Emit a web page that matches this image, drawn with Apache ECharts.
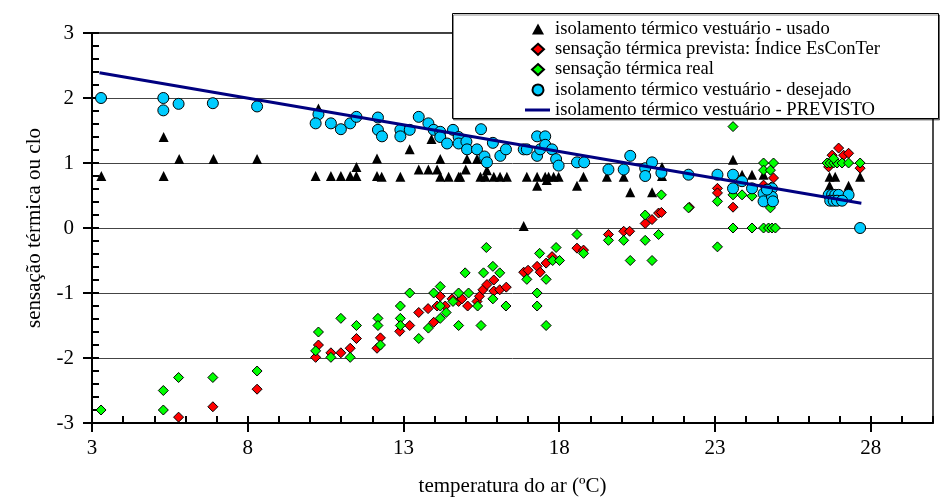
<!DOCTYPE html>
<html>
<head>
<meta charset="utf-8">
<script src="https://cdn.jsdelivr.net/npm/echarts@6/dist/echarts.min.js"></script>
<style>
  html, body { margin: 0; padding: 0; background: #fff; }
  #chart { width: 940px; height: 502px; }
</style>
</head>
<body>
<div id="chart"></div>
<script>
// isolamento termico vestuario - usado (triangulos)
var usadoX = [3.3, 5.3, 5.3, 5.8, 6.9, 8.3, 10.27, 10.18, 10.67, 10.99, 11.29, 11.49, 11.49, 12.15, 12.15, 12.3, 12.9, 13.2, 13.49, 13.8,
  14.08, 14.18, 13.9, 14.18, 14.45, 14.77, 14.82, 15.04, 15.0, 15.36, 15.47, 15.63, 15.9, 16.1, 16.32, 15.68, 16.86, 16.96, 17.29, 17.55,
  17.66, 17.82, 17.98, 17.29, 17.6, 18.57, 18.78, 19.53, 20.07, 20.28, 20.98, 21.3, 21.3, 23.58, 23.87, 24.19, 24.56, 26.68, 26.86, 26.68,
  27.29, 27.66]
var usadoY = [0.8, 1.4, 0.8, 1.06, 1.06, 1.06, 1.84, 0.8, 0.8, 0.8, 0.8, 0.8, 0.94, 1.07, 0.8, 0.79, 0.79, 1.21, 0.9, 0.9,
  0.9, 1.06, 1.37, 0.79, 0.79, 0.79, 0.79, 1.06, 0.9, 1.06, 0.79, 0.79, 0.79, 0.79, 0.79, 0.89, 0.03, 0.79, 0.79, 0.79,
  0.79, 0.79, 0.79, 0.65, 0.74, 0.65, 0.79, 0.79, 0.79, 0.55, 0.55, 0.94, 0.8, 1.05, 0.82, 0.82, 0.82, 0.79, 0.79, 0.65,
  0.65, 0.79]

// sensacao termica prevista: Indice EsConTer
var previstaX = [5.78, 6.88, 8.3, 10.18, 10.27, 10.67, 10.99, 11.29, 11.49, 12.15, 12.26, 12.88, 13.2, 13.49, 13.79, 13.97, 14.08, 14.18, 14.34, 14.56,
  14.77, 14.88, 15.06, 15.36, 15.44, 15.55, 15.68, 15.9, 15.9, 16.09, 16.3, 16.86, 17.0, 17.29, 17.39, 17.58, 17.77, 18.57, 18.78, 19.58,
  20.07, 20.26, 20.76, 20.98, 21.19, 21.28, 22.18, 23.08, 23.08, 23.58, 24.56, 24.8, 24.88, 26.65, 26.76, 26.97, 27.13, 27.29, 27.66]
var previstaY = [-2.91, -2.75, -2.48, -1.99, -1.8, -1.92, -1.92, -1.85, -1.7, -1.85, -1.69, -1.59, -1.5, -1.3, -1.24, -1.45, -1.2, -1.05, -1.2, -1.09,
  -1.13, -1.09, -1.2, -1.13, -1.05, -0.95, -0.87, -0.8, -0.97, -0.95, -0.91, -0.68, -0.65, -0.59, -0.68, -0.54, -0.44, -0.31, -0.34, -0.1,
  -0.05, -0.05, 0.07, 0.13, 0.23, 0.24, 0.32, 0.61, 0.54, 0.32, 0.66, 0.63, 0.77, 0.94, 1.12, 1.23, 1.12, 1.15, 0.92]

// sensacao termica real
var realX = [3.29, 5.29, 5.29, 5.78, 6.88, 8.3, 10.27, 10.18, 10.67, 10.99, 11.29, 11.49, 12.18, 12.18, 12.26, 12.9, 12.9, 12.9, 13.2, 13.49,
  13.8, 13.97, 14.18, 14.18, 14.18, 14.37, 14.59, 14.77, 14.77, 14.98, 15.09, 15.38, 15.49, 15.57, 15.66, 15.87, 15.87, 16.09, 16.29, 16.96,
  17.29, 17.29, 17.37, 17.58, 17.58, 17.79, 17.9, 18.01, 18.57, 18.78, 19.58, 20.07, 20.28, 20.76, 20.76, 20.98, 21.19, 21.28, 22.15, 23.08,
  23.08, 23.58, 23.58, 23.58, 23.87, 24.19, 24.19, 24.56, 24.88, 24.56, 24.78, 24.56, 24.72, 24.83, 24.94, 24.78, 24.88, 26.6, 26.7, 26.81,
  26.92, 27.08, 27.29, 27.66, 26.81]
var realY = [-2.8, -2.5, -2.8, -2.3, -2.3, -2.2, -1.6, -1.89, -1.99, -1.39, -1.99, -1.5, -1.39, -1.5, -1.8, -1.2, -1.39, -1.5, -1.0, -1.7,
  -1.54, -1.0, -0.9, -1.2, -1.39, -1.3, -1.13, -1.0, -1.5, -0.69, -1.0, -1.2, -1.5, -0.69, -0.3, -0.59, -1.09, -0.69, -1.2, -0.79,
  -1.0, -1.2, -0.39, -0.79, -1.5, -0.5, -0.3, -0.5, -0.1, -0.39, -0.19, -0.19, -0.5, 0.2, -0.19, -0.5, -0.1, 0.51, 0.31, 0.41,
  -0.29, 1.56, 0.0, 0.51, 0.51, 0.0, 0.49, 1.0, 1.0, 0.89, 0.89, 0.0, 0.0, 0.0, 0.0, 0.31, 0.41, 1.0, 1.0, 1.0,
  1.0, 1.0, 1.0, 1.0, 1.07]

// isolamento termico vestuario - desejado (circulos)
var desejadoX = [3.29, 5.29, 5.29, 5.78, 6.88, 8.3, 10.27, 10.18, 10.67, 10.99, 11.29, 11.49, 12.18, 12.18, 12.31, 12.9, 12.9, 13.2, 13.49, 13.8,
  13.97, 14.18, 14.18, 14.4, 14.59, 14.77, 14.77, 15.02, 15.04, 15.36, 15.49, 15.6, 15.68, 15.87, 16.11, 16.29, 16.86, 16.96, 17.29, 17.29,
  17.55, 17.39, 17.55, 17.77, 17.9, 17.98, 18.57, 18.8, 19.58, 20.07, 20.28, 20.76, 20.76, 20.98, 21.28, 22.15, 23.08, 23.58, 23.58, 23.87,
  24.19, 24.56, 24.56, 24.83, 24.83, 24.86, 24.67, 26.65, 26.76, 26.86, 26.97, 27.29, 26.7, 26.81, 26.92, 27.08, 27.66]
var desejadoY = [2.0, 2.0, 1.81, 1.91, 1.92, 1.87, 1.75, 1.61, 1.61, 1.52, 1.61, 1.71, 1.7, 1.51, 1.41, 1.51, 1.41, 1.51, 1.71, 1.61,
  1.51, 1.48, 1.4, 1.3, 1.51, 1.4, 1.3, 1.33, 1.21, 1.21, 1.52, 1.1, 1.01, 1.31, 1.11, 1.21, 1.21, 1.21, 1.41, 1.11,
  1.41, 1.21, 1.28, 1.21, 1.06, 0.96, 1.01, 1.01, 0.9, 0.9, 1.11, 0.92, 0.8, 1.01, 0.85, 0.82, 0.82, 0.82, 0.61, 0.72,
  0.61, 0.53, 0.41, 0.61, 0.48, 0.41, 0.59, 0.51, 0.51, 0.51, 0.51, 0.51, 0.42, 0.42, 0.42, 0.42, 0.0]

// isolamento termico vestuario - PREVISTO (reta)
var previstoX = [3.24, 27.7]
var previstoY = [2.39, 0.38]

var xLabels = [3, 8, 13, 18, 23, 28]
var xMinor = []
for (var t = 3; t <= 30; t++) {
  xMinor.push(t)
}

var names = [
  'isolamento térmico vestuário - usado',
  'sensação térmica prevista: Índice EsConTer',
  'sensação térmica real',
  'isolamento térmico vestuário - desejado',
  'isolamento térmico vestuário - PREVISTO'
]

function pairs(xs, ys) {
  var out = []
  for (var i = 0; i < xs.length; i++) {
    out.push([xs[i], ys[i]])
  }
  return out
}

var font = "'Liberation Serif', 'Times New Roman', serif"
var legendText = { fontFamily: font, fontSize: 18.6, color: '#000', lineHeight: 19 }
var chart = echarts.init(document.getElementById('chart'))

chart.setOption({
  backgroundColor: '#fff',
  animation: false,
  textStyle: { fontFamily: font, color: '#000' },
  grid: {
    left: 92,
    right: 7,
    top: 33,
    bottom: 78,
    show: true,
    borderColor: '#000',
    borderWidth: 1.4
  },
  graphic: [{
    type: 'rect',
    z: 20,
    shape: { x: 452.5, y: 13.5, width: 486, height: 105 },
    style: {
      fill: '#fff',
      stroke: '#000',
      lineWidth: 1,
      shadowColor: 'rgba(0,0,0,0.45)',
      shadowOffsetX: 1,
      shadowOffsetY: 1.5
    }
  }],
  // two legends: markers keep their own size, the line gets a wide icon
  legend: [{
    z: 30,
    orient: 'vertical',
    left: 531,
    top: 19.5,
    itemWidth: 12,
    itemHeight: 11,
    itemGap: 1.3,
    padding: 0,
    textStyle: Object.assign({ padding: [0, 0, 0, 6] }, legendText),
    data: names.slice(0, 4)
  }, {
    z: 30,
    orient: 'vertical',
    left: 525,
    top: 100.5,
    itemWidth: 25,
    itemHeight: 3,
    padding: 0,
    textStyle: legendText,
    data: [{ name: names[4], icon: 'rect' }]
  }],
  xAxis: [{
    type: 'value',
    min: 3,
    max: 30,
    position: 'bottom',
    name: 'temperatura do ar (ºC)',
    nameLocation: 'middle',
    nameGap: 53,
    nameTextStyle: { fontFamily: font, fontSize: 21, color: '#000' },
    axisLine: { show: true, onZero: false, lineStyle: { color: '#000', width: 2 } },
    axisTick: { show: true, inside: false, length: 9, customValues: xLabels, lineStyle: { color: '#000', width: 2 } },
    axisLabel: { customValues: xLabels, margin: 15, fontFamily: font, fontSize: 21, color: '#000' },
    splitLine: { show: false }
  }, {
    type: 'value',
    min: 3,
    max: 30,
    position: 'bottom',
    axisLine: { show: false, onZero: false },
    axisTick: { show: true, inside: true, length: 7, customValues: xMinor, lineStyle: { color: '#000', width: 2 } },
    axisLabel: { show: false },
    splitLine: { show: false }
  }],
  yAxis: [{
    type: 'value',
    min: -3,
    max: 3,
    interval: 1,
    position: 'left',
    name: 'sensação térmica ou clo',
    nameLocation: 'middle',
    nameGap: 47,
    nameTextStyle: { fontFamily: font, fontSize: 21, color: '#000' },
    axisLine: { show: true, onZero: false, lineStyle: { color: '#000', width: 2 } },
    axisTick: { show: true, inside: false, length: 9, lineStyle: { color: '#000', width: 2 } },
    axisLabel: { margin: 18, fontFamily: font, fontSize: 21, color: '#000' },
    splitLine: { show: true, lineStyle: { color: '#444', width: 1 } }
  }, {
    type: 'value',
    min: -3,
    max: 3,
    interval: 1,
    position: 'left',
    axisLine: { show: false, onZero: false },
    axisTick: { show: true, inside: true, length: 7, lineStyle: { color: '#000', width: 2 } },
    minorTick: { show: true, splitNumber: 5, length: 7, lineStyle: { color: '#000', width: 2 } },
    axisLabel: { show: false },
    splitLine: { show: false }
  }],
  series: [{
    name: names[0],
    type: 'scatter',
    symbol: 'triangle',
    symbolSize: 10,
    itemStyle: { color: '#000', opacity: 1 },
    data: pairs(usadoX, usadoY)
  }, {
    name: names[1],
    type: 'scatter',
    symbol: 'diamond',
    symbolSize: 10,
    itemStyle: { color: '#ff0000', borderColor: '#000', borderWidth: 1, opacity: 1 },
    data: pairs(previstaX, previstaY)
  }, {
    name: names[2],
    type: 'scatter',
    symbol: 'diamond',
    symbolSize: 10,
    itemStyle: { color: '#00ff00', borderColor: '#000', borderWidth: 1, opacity: 1 },
    data: pairs(realX, realY)
  }, {
    name: names[3],
    type: 'scatter',
    symbol: 'circle',
    symbolSize: 11,
    itemStyle: { color: '#00ccff', borderColor: '#000', borderWidth: 1, opacity: 1 },
    data: pairs(desejadoX, desejadoY)
  }, {
    name: names[4],
    type: 'line',
    symbol: 'none',
    lineStyle: { color: '#000080', width: 3 },
    itemStyle: { color: '#000080' },
    data: pairs(previstoX, previstoY)
  }]
})
</script>
</body>
</html>
